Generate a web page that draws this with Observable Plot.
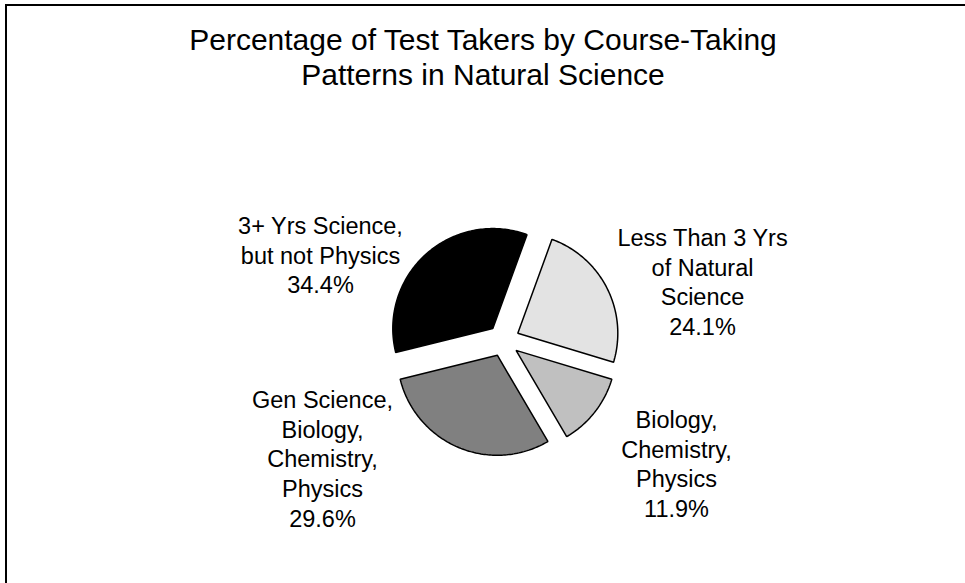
<!DOCTYPE html>
<html>
<head>
<meta charset="utf-8">
<script src="https://cdn.jsdelivr.net/npm/d3@7"></script>
<script src="https://cdn.jsdelivr.net/npm/@observablehq/plot@0.6"></script>
<style>
  html, body { margin: 0; padding: 0; background: #fff; }
  #wrap { position: relative; width: 965px; height: 583px; overflow: hidden; }
  #frame { position: absolute; left: 5px; top: 4px; width: 970px; height: 590px;
           border-top: 2px solid #000; border-left: 2px solid #000; box-sizing: border-box; }
  #chart { position: absolute; left: 0; top: 0; }
</style>
</head>
<body>
<div id="wrap"><div id="frame"></div><div id="chart"></div></div>
<script>
// ---- data ----
const categories = [
  "Less Than 3 Yrs\nof Natural\nScience",
  "Biology,\nChemistry,\nPhysics",
  "Gen Science,\nBiology,\nChemistry,\nPhysics",
  "3+ Yrs Science,\nbut not Physics"
];
const shares = [24.1, 11.9, 29.6, 34.4];
const titleText = "Percentage of Test Takers by Course-Taking\nPatterns in Natural Science";

// ---- layout / style (not data) ----
const fills = ["#e3e3e3", "#c0c0c0", "#808080", "#000000"];
const W = 965, H = 583;
const center = [503, 340];
const radius = 100;
const explode = 16;
const startDeg = 20;
const labelAnchors = [[702, 224], [676, 406], [322, 386], [320, 212]];
const labelSize = 23.5;
const titleSize = 30;

const start = startDeg * Math.PI / 180;
const arcs = d3.pie().sort(null).value(d => d).startAngle(start).endAngle(start + 2 * Math.PI)(shares);

const slices = arcs.map((a, i) => {
  const mid = (a.startAngle + a.endAngle) / 2;
  const cx = center[0] + explode * Math.sin(mid);
  const cy = center[1] - explode * Math.cos(mid);
  const pts = [{x: cx, y: cy}];
  const n = Math.max(8, Math.ceil((a.endAngle - a.startAngle) / (Math.PI / 180)));
  for (let k = 0; k <= n; k++) {
    const t = a.startAngle + (a.endAngle - a.startAngle) * k / n;
    pts.push({x: cx + radius * Math.sin(t), y: cy - radius * Math.cos(t)});
  }
  return pts;
});

const labelRows = categories.map((c, i) => ({
  text: c + "\n" + shares[i].toFixed(1) + "%",
  x: labelAnchors[i][0],
  y: labelAnchors[i][1]
}));

const chart = Plot.plot({
  width: W,
  height: H,
  margin: 0,
  x: {type: "identity", axis: null},
  y: {type: "identity", axis: null},
  style: {fontFamily: "'Liberation Sans', Arial, sans-serif", background: "transparent", color: "#000"},
  marks: [
    ...slices.map((pts, i) => Plot.line(pts, {
      x: "x", y: "y", curve: "linear-closed",
      fill: fills[i], stroke: "#000", strokeWidth: 1.5, strokeLinejoin: "miter"
    })),
    Plot.text(labelRows, {
      x: "x", y: "y", text: "text",
      fontSize: labelSize, lineHeight: 1.27, lineAnchor: "top", textAnchor: "middle", fill: "#000"
    }),
    Plot.text([titleText], {
      x: () => W / 2, y: () => 24.7, text: d => d,
      fontSize: titleSize, lineHeight: 1.167, lineAnchor: "top", textAnchor: "middle", fill: "#000"
    })
  ]
});
document.getElementById("chart").appendChild(chart);
</script>
</body>
</html>
